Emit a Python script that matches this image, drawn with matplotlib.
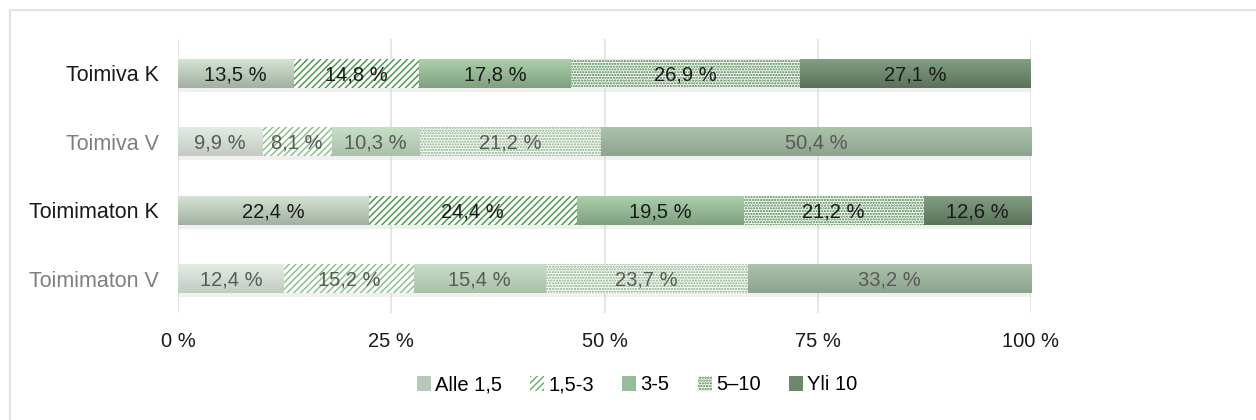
import numpy as np
import matplotlib.pyplot as plt
from matplotlib.patches import Patch, Rectangle
from matplotlib.colors import LinearSegmentedColormap

plt.rcParams['font.family'] = ['Liberation Sans', 'DejaVu Sans']
plt.rcParams['hatch.linewidth'] = 1.1

# ---- data ----
rows = ['Toimiva K', 'Toimiva V', 'Toimimaton K', 'Toimimaton V']
groups = ['Alle 1,5', '1,5-3', '3-5', '5–10', 'Yli 10']
alle_15 = [13.5, 9.9, 22.4, 12.4]
v15_3 = [14.8, 8.1, 24.4, 15.2]
v3_5 = [17.8, 10.3, 19.5, 15.4]
v5_10 = [26.9, 21.2, 21.2, 23.7]
yli_10 = [27.1, 50.4, 12.6, 33.2]

series = np.array([alle_15, v15_3, v3_5, v5_10, yli_10])
shares = series / series.sum(axis=0) * 100

# ---- styles ----
# (top, bottom) gradient for solid segments, hatch colour for patterned ones
solid_k = {0: ('#d5e3d5', '#a2b0a2'), 2: ('#abcfab', '#7fa07f'), 4: ('#829f82', '#5a725a')}
solid_v = {0: ('#e3ece3', '#c3cbc3'), 2: ('#c6dfc6', '#a9c1a9'), 4: ('#abc3ab', '#8ea38e')}
hatch_k = {1: ('/////', '#4f9a4f'), 3: ('......', '#3f7f3f')}
hatch_v = {1: ('/////', '#8cc28c'), 3: ('......', '#7fab7f')}
text_k, text_v = '#1a1a1a', '#595959'

fig = plt.figure(figsize=(12.56, 4.2), dpi=100)
ax = fig.add_axes([178 / 1256, 1 - 313 / 420, (1031 - 178) / 1256, 274 / 420])

y = np.arange(len(rows))[::-1]
h = 0.42
left = np.zeros(len(rows))

for i in range(len(groups)):
    for r in range(len(rows)):
        is_k = rows[r].endswith('K')
        x0, w = left[r], shares[i, r]
        # soft shadow under each segment
        ax.add_patch(Rectangle((x0, y[r] - h / 2 - 0.06), w, 0.08, color='#cfcfcf',
                               alpha=0.3, lw=0, zorder=1))
        if i in (solid_k if is_k else solid_v):
            top, bot = (solid_k if is_k else solid_v)[i]
            b = ax.barh(y[r], w, left=x0, height=h, color=bot, lw=0, zorder=2)[0]
            cmap = LinearSegmentedColormap.from_list('g', [top, bot])
            im = ax.imshow(np.linspace(0, 1, 64).reshape(-1, 1), cmap=cmap, aspect='auto',
                           extent=(x0, x0 + w, y[r] - h / 2, y[r] + h / 2),
                           origin='upper', zorder=2.5)
            im.set_clip_path(b)
        else:
            hatch, hc = (hatch_k if is_k else hatch_v)[i]
            ax.barh(y[r], w, left=x0, height=h, facecolor='white', edgecolor=hc,
                    hatch=hatch, lw=0, zorder=2)
        label = f'{series[i, r]:.1f} %'.replace('.', ',')
        ax.text(x0 + w / 2, y[r] - 0.02, label, ha='center', va='center', fontsize=14.5,
                color=text_k if is_k else text_v, zorder=4)
    left += shares[i]

ax.set_xlim(0, 100)
ax.set_ylim(-0.5, 3.5)
ax.set_xticks([0, 25, 50, 75, 100])
ax.set_xticklabels(['0 %', '25 %', '50 %', '75 %', '100 %'], fontsize=14.5, color='#1a1a1a')
ax.set_yticks(y)
ax.set_yticklabels(rows, fontsize=15.5)
for lbl, r in zip(ax.get_yticklabels(), rows):
    lbl.set_color(text_k if r.endswith('K') else '#7f7f7f')
ax.tick_params(length=0, pad=14)
ax.tick_params(axis='x', pad=14)
ax.grid(axis='x', color='#e4e4df', lw=1.3, zorder=0)
ax.set_axisbelow(True)
for s in ax.spines.values():
    s.set_visible(False)

# legend
handles = [
    Patch(facecolor='#b8c8b8', lw=0),
    Patch(facecolor='white', edgecolor='#6fb06f', hatch='/////', lw=0),
    Patch(facecolor='#98bb98', lw=0),
    Patch(facecolor='white', edgecolor='#3f7f3f', hatch='......', lw=0),
    Patch(facecolor='#6c876c', lw=0),
]
fig.legend(handles, groups, loc='center', bbox_to_anchor=(637 / 1256, 1 - 385 / 420),
           ncol=5, frameon=False, fontsize=14.5, handlelength=0.7, handleheight=0.7,
           handletextpad=0.2, columnspacing=1.4)

# chart border
fig.add_artist(Rectangle((9.5 / 1256, -0.1), 1.2, 1.1 - 10.5 / 420, transform=fig.transFigure,
                         fill=False, edgecolor='#e4e4df', lw=1.5))

fig.savefig('out.png', dpi=100)
